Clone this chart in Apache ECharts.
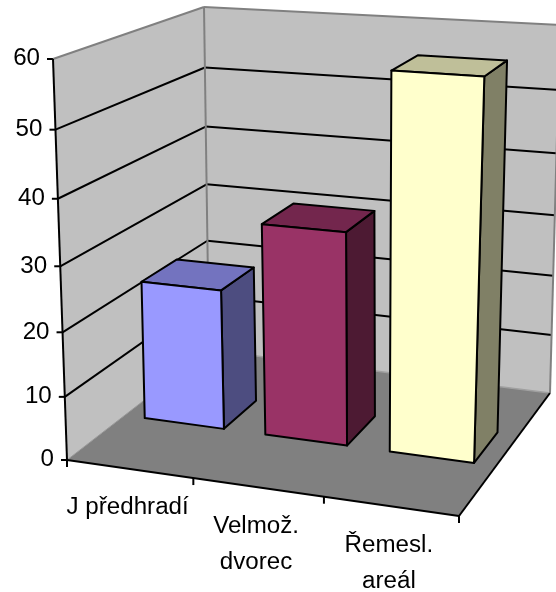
<!DOCTYPE html>
<html><head><meta charset="utf-8">
<style>html,body{margin:0;padding:0;background:#fff}#c{width:556px;height:592px}</style>
<script src="https://cdn.jsdelivr.net/npm/echarts@6/dist/echarts.min.js"></script>
</head><body><div id="c"></div>
<script>
const categories = ['J předhradí', 'Velmož.\ndvorec', 'Řemesl.\nareál'];
const values = [22.5, 33.5, 57.7];
const yTicks = [0, 10, 20, 30, 40, 50, 60];
const faceColors = [['#9999FF','#7373BF','#4D4D80'],['#993366','#73264D','#4D1A33'],['#FFFFCC','#BFBF99','#808066']];

// Camera: floor and ceiling corners of the plot box (front-left, front-right, back-right, back-left)
const FLOOR = [[67,460],[459,516],[550,393],[209,350]];
const CEIL  = [[53,59],[473,88],[560,25],[204,7]];
const K = 1.07, DEPTH0 = 0.37, DEPTH1 = 0.62, BAR_FRAC = 0.66;
const FONT = '23px "Liberation Sans", Arial, sans-serif';
const TEXT_STRETCH = 1.05;

function homography(q){
  const [[x0,y0],[x1,y1],[x2,y2],[x3,y3]] = q;
  const dx1=x1-x2, dx2=x3-x2, sx=x0-x1+x2-x3, dy1=y1-y2, dy2=y3-y2, sy=y0-y1+y2-y3;
  const det=dx1*dy2-dx2*dy1, g=(sx*dy2-dx2*sy)/det, h=(dx1*sy-sx*dy1)/det;
  const a=x1-x0+g*x1, b=x3-x0+h*x3, d=y1-y0+g*y1, e=y3-y0+h*y3;
  return (u,v)=>{const w=g*u+h*v+1;return [(a*u+b*v+x0)/w,(d*u+e*v+y0)/w];};
}
const floorH = homography(FLOOR), ceilH = homography(CEIL);
// u: along categories, v: depth, t: height fraction 0..1
function proj(u,v,t){
  const f=floorH(u,v), c=ceilH(u,v), s=t/(t+K*(1-t));
  return [f[0]+(c[0]-f[0])*s, f[1]+(c[1]-f[1])*s];
}
function frac(api,params,cat,val){
  const r=params.coordSys, p=api.coord([cat,val]);
  return {u:(p[0]-r.x)/r.width, t:1-(p[1]-r.y)/r.height};
}
const poly=(pts,fill,stroke,lw)=>({type:'polygon',shape:{points:pts},style:{fill,stroke,lineWidth:lw,lineJoin:'round'}});
const line=(a,b,stroke,lw)=>({type:'line',shape:{x1:a[0],y1:a[1],x2:b[0],y2:b[1]},style:{stroke,lineWidth:lw}});
const label=(text,x,y,align,vAlign)=>({type:'text',x,y,scaleX:TEXT_STRETCH,style:{text,x:0,y:0,align,verticalAlign:vAlign,font:FONT,lineHeight:36,fill:'#000'}});

function renderWalls(){
  const W='#C0C0C0';
  return {type:'group',children:[
    poly([proj(0,0,0),proj(0,1,0),proj(0,1,1),proj(0,0,1)],W,null,0),
    poly([proj(0,1,0),proj(1,1,0),proj(1,1,1),proj(0,1,1)],W,null,0),
    poly([proj(0,0,0),proj(1,0,0),proj(1,1,0),proj(0,1,0)],'#808080',null,0),
  ]};
}
function renderGrid(params,api){
  const {t}=frac(api,params,0,api.value(1)), val=api.value(1);
  const ch=[];
  if(val>0&&val<60){
    ch.push(line(proj(0,0,t),proj(0,1,t),'#000',2));
    ch.push(line(proj(0,1,t),proj(1,1,t),'#000',2));
  }
  const a=proj(0,0,t);
  ch.push(line([a[0]-6,a[1]],a,'#000',2));
  ch.push(label(String(val),a[0]-13,a[1],'right','middle'));
  return {type:'group',children:ch};
}
function renderEdges(){
  const E='#808080';
  return {type:'group',children:[
    line(proj(0,0,1),proj(0,1,1),E,2),
    line(proj(0,1,1),proj(1,1,1),E,2),
    line(proj(0,1,0),proj(0,1,1),E,2),
    line(proj(1,1,0),proj(1,1,1),E,2),
    line(proj(0,0,0),proj(0,1,0),'#999',1),
    line(proj(0,1,0),proj(1,1,0),'#A0A0A0',1.5),
    line(proj(1,1,0),proj(1,0,0),'#000',2),
    line(proj(0,0,0),proj(1,0,0),'#000',2),
    line(proj(0,0,0),proj(0,0,1),'#000',2),
  ]};
}
function renderCatAxis(params,api){
  const i=api.value(0), {u}=frac(api,params,i,0), r=params.coordSys;
  const step=api.size([1,0])[0]/r.width;
  const e=proj(u,0,0), ch=[];
  ch.push(label(categories[i],e[0]-2,e[1]+21,'center','top'));
  const a=proj(u-step/2,0,0); ch.push(line(a,[a[0],a[1]+7],'#000',2));
  if(i===categories.length-1){const b=proj(u+step/2,0,0); ch.push(line(b,[b[0],b[1]+7],'#000',2));}
  return {type:'group',children:ch};
}
function renderBar(params,api){
  const i=api.value(0), {u,t}=frac(api,params,i,api.value(1)), r=params.coordSys;
  const hw=api.size([1,0])[0]/r.width*BAR_FRAC/2, u0=u-hw, u1=u+hw, v0=DEPTH0, v1=DEPTH1;
  const c=faceColors[i], S='#000', L=2;
  return {type:'group',children:[
    poly([proj(u1,v0,0),proj(u1,v1,0),proj(u1,v1,t),proj(u1,v0,t)],c[2],S,L),
    poly([proj(u0,v0,t),proj(u1,v0,t),proj(u1,v1,t),proj(u0,v1,t)],c[1],S,L),
    poly([proj(u0,v0,0),proj(u1,v0,0),proj(u1,v0,t),proj(u0,v0,t)],c[0],S,L),
  ]};
}
const base={type:'custom',coordinateSystem:'cartesian2d',clip:false,silent:true,animation:false};
const chart=echarts.init(document.getElementById('c'));
chart.setOption({
  animation:false,backgroundColor:'#fff',
  grid:{left:0,right:0,top:0,bottom:0},
  xAxis:{type:'category',data:categories,show:false},
  yAxis:{type:'value',min:0,max:60,interval:10,show:false},
  series:[
    {...base,z:1,renderItem:renderWalls,data:[[0,0]]},
    {...base,z:2,renderItem:renderGrid,data:yTicks.map(v=>[0,v])},
    {...base,z:3,renderItem:renderEdges,data:[[0,0]]},
    {...base,z:4,renderItem:renderCatAxis,data:categories.map((c,i)=>[i,0])},
    {...base,z:5,renderItem:renderBar,data:values.map((v,i)=>[i,v])}
  ]
});
</script></body></html>
